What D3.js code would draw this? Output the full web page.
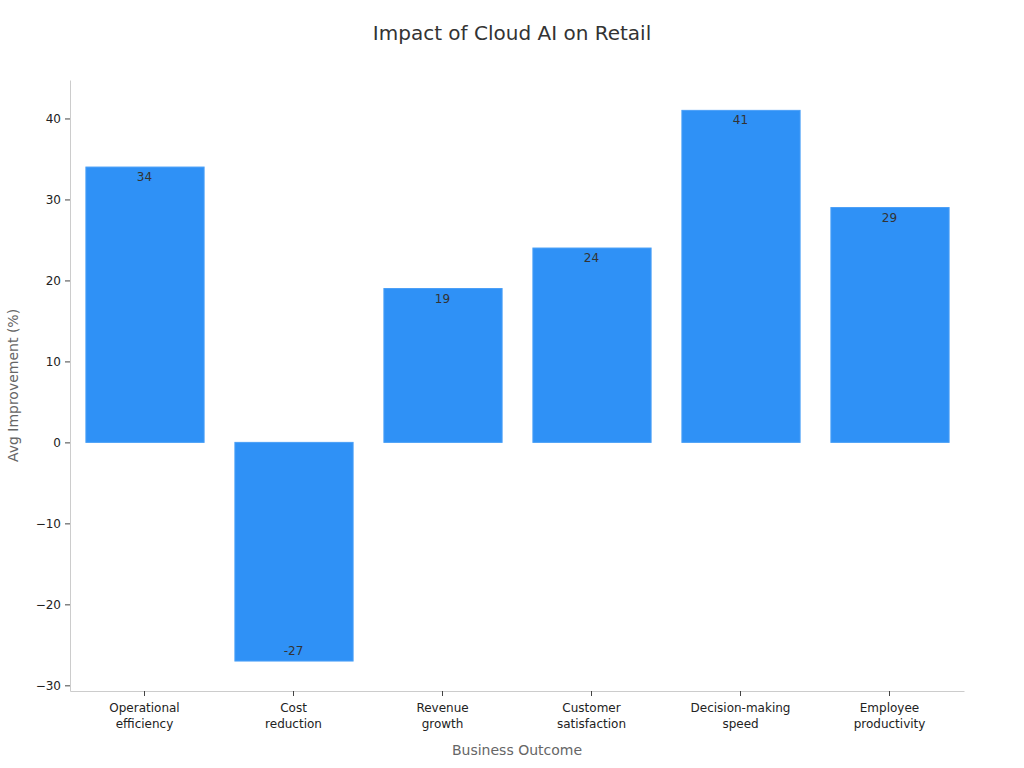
<!DOCTYPE html>
<html>
<head>
<meta charset="utf-8">
<script src="https://cdn.jsdelivr.net/npm/d3@7"></script>
<style>
  body { margin: 0; background: #fff; }
  text { font-family: "DejaVu Sans", sans-serif; }
</style>
</head>
<body>
<div id="viz_container"></div>
<script>
// chart data
const categories = ["Operational\nefficiency", "Cost\nreduction", "Revenue\ngrowth",
    "Customer\nsatisfaction", "Decision-making\nspeed", "Employee\nproductivity"];
const improvement = [34, -27, 19, 24, 41, 29];
const yTicks = [-30, -20, -10, 0, 10, 20, 30, 40];

const W = 1024, H = 768;
const margin = { top: 80, right: 60, bottom: 77, left: 70 };
const width = W - margin.left - margin.right;
const height = H - margin.top - margin.bottom;

const svg = d3.select("#viz_container")
    .append("svg")
    .attr("width", W)
    .attr("height", H);

const g = svg.append("g")
    .attr("transform", `translate(${margin.left}, ${margin.top})`);

// scales
const x = d3.scaleBand()
    .domain(categories)
    .range([0, width])
    .paddingInner(0.2)
    .paddingOuter(0.1);

const y = d3.scaleLinear()
    .domain([-30.7, 44.75])
    .range([height, 0]);

// bars
g.append("g")
    .selectAll("rect")
    .data(improvement)
    .join("rect")
    .attr("x", (d, i) => x(categories[i]) + 1)
    .attr("width", x.bandwidth() - 1)
    .attr("y", d => y(Math.max(0, d)))
    .attr("height", d => Math.abs(y(d) - y(0)))
    .attr("fill", "#2f91f6")
    .attr("stroke", "#4a9ff7")
    .attr("stroke-width", 1);

// value labels
g.append("g")
    .selectAll("text")
    .data(improvement)
    .join("text")
    .attr("x", (d, i) => x(categories[i]) + x.bandwidth() / 2)
    .attr("y", d => d >= 0 ? y(d) + 14 : y(d) - 6)
    .attr("text-anchor", "middle")
    .attr("font-size", 12)
    .attr("fill", "#333")
    .text(d => d);

// y axis
const yAxis = g.append("g")
    .call(d3.axisLeft(y).tickValues(yTicks).tickSize(5).tickPadding(4).tickSizeOuter(0)
        .tickFormat(d => d < 0 ? "\u2212" + Math.abs(d) : d));
yAxis.select(".domain").attr("stroke", "#ccc");
yAxis.selectAll(".tick line").attr("stroke", "#444");
yAxis.selectAll(".tick text").attr("font-size", 12).attr("fill", "#222")
    .attr("font-family", "DejaVu Sans, sans-serif");

// x axis
const xAxis = g.append("g")
    .attr("transform", `translate(0, ${height})`)
    .call(d3.axisBottom(x).tickSize(5).tickPadding(7).tickSizeOuter(0));
xAxis.select(".domain").attr("stroke", "#ccc");
xAxis.selectAll(".tick line").attr("stroke", "#444");
xAxis.selectAll(".tick text")
    .attr("font-size", 12)
    .attr("fill", "#222")
    .attr("font-family", "DejaVu Sans, sans-serif")
    .each(function (d) {
        const t = d3.select(this);
        const lines = d.split("\n");
        t.text(null);
        lines.forEach((line, i) => {
            t.append("tspan")
                .attr("x", 0)
                .attr("dy", i === 0 ? "0.71em" : "1.35em")
                .text(line);
        });
    });

// titles
svg.append("text")
    .attr("x", W / 2)
    .attr("y", 40)
    .attr("text-anchor", "middle")
    .attr("font-size", 20)
    .attr("fill", "#333")
    .text("Impact of Cloud AI on Retail");

svg.append("text")
    .attr("x", margin.left + width / 2)
    .attr("y", 755)
    .attr("text-anchor", "middle")
    .attr("font-size", 14)
    .attr("fill", "#666")
    .text("Business Outcome");

svg.append("text")
    .attr("transform", `translate(18, ${margin.top + height / 2}) rotate(-90)`)
    .attr("text-anchor", "middle")
    .attr("font-size", 14)
    .attr("fill", "#666")
    .text("Avg Improvement (%)");
</script>
</body>
</html>
